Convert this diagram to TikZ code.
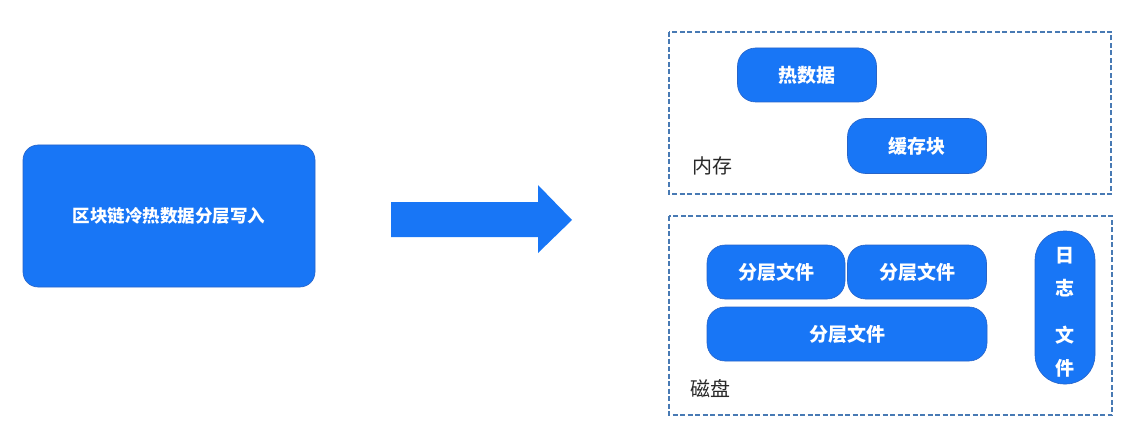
\documentclass[tikz,border=0pt]{standalone}
\usepackage{fontspec}
\setmainfont{Noto Sans CJK SC}
\definecolor{boxblue}{RGB}{24,118,246}
\definecolor{boxedge}{RGB}{40,100,200}
\definecolor{dashblue}{RGB}{72,122,180}
\definecolor{labelgray}{RGB}{40,40,40}

\begin{document}
\begin{tikzpicture}[x=1pt, y=-1pt,
  block/.style={fill=boxblue, draw=boxedge, line width=0.6pt, rounded corners=18pt,
    text=white, font=\fontsize{19}{22}\selectfont\bfseries, inner sep=0pt},
  area/.style={draw=dashblue, line width=1.6pt, dash pattern=on 5pt off 2.5pt},
  arealabel/.style={text=labelgray, font=\fontsize{20}{23}\selectfont}]
  \useasboundingbox (0,0) rectangle (1130,441);

  % Source block
  \node[block, rounded corners=15pt, minimum width=292pt, minimum height=142pt,
    font=\fontsize{17.5}{20}\selectfont\bfseries] (src) at (169,216) {区块链冷热数据分层写入};

  % Big arrow
  \fill[boxblue] (391,202) -- (538,202) -- (538,185) -- (572,220)
    -- (538,253) -- (538,237) -- (391,237) -- cycle;

  % Memory area
  \draw[area] (669,32) rectangle (1111,194);
  \node[arealabel] (mem) at (712,166) {内存};
  \node[block, minimum width=139pt, minimum height=54pt] (hot) at (807,75) {热数据};
  \node[block, minimum width=139pt, minimum height=55pt] (cache) at (917,146) {缓存块};

  % Disk area
  \draw[area] (669,216) rectangle (1112,415);
  \node[arealabel] (disk) at (710,389) {磁盘};
  \node[block, minimum width=138pt, minimum height=54pt] (layerA) at (776,272) {分层文件};
  \node[block, minimum width=139pt, minimum height=54pt] (layerB) at (917,272) {分层文件};
  \node[block, minimum width=280pt, minimum height=54pt] (layerC) at (847,334) {分层文件};
  \node[block, rounded corners=29pt, minimum width=60pt, minimum height=153pt,
    font=\fontsize{19}{33}\selectfont\bfseries] (log) at (1065,307.5)
    {\raisebox{-9pt}[0pt][0pt]{\begin{tabular}{@{}c@{}}日\\志\\[14pt]文\\件\end{tabular}}};
\end{tikzpicture}
\end{document}
